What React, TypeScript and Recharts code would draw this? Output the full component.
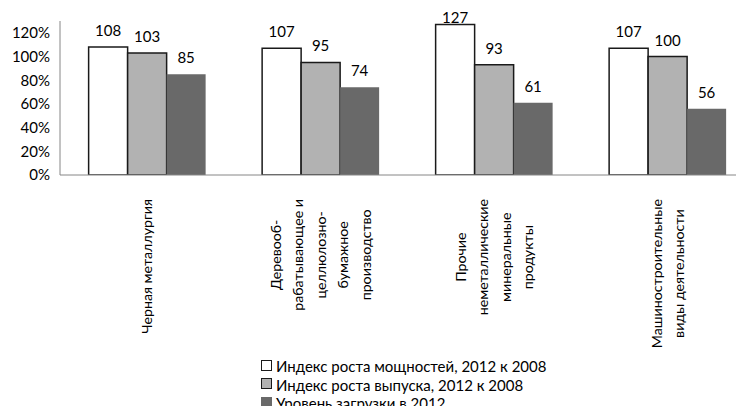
import { BarChart, Bar, XAxis, YAxis, Legend, LabelList } from "recharts";

const categories = [
  "Черная металлургия",
  "Деревооб-|рабатывающее и|целлюлозно-|бумажное|производство",
  "Прочие|неметаллические|минеральные|продукты",
  "Машиностроительные|виды деятельности",
];
const capacityIndex = [108, 107, 127, 107];
const outputIndex = [103, 95, 93, 100];
const loadLevel = [85, 74, 61, 56];
const yTicks = [0, 20, 40, 60, 80, 100, 120];
const seriesNames = [
  "Индекс роста мощностей, 2012 к 2008",
  "Индекс роста выпуска, 2012 к 2008",
  "Уровень загрузки в 2012",
];

const data = categories.map((c, i) => ({
  name: c,
  capacity: capacityIndex[i],
  output: outputIndex[i],
  load: loadLevel[i],
}));

const FONT = "Lato, 'Liberation Sans', sans-serif";
const colors = ["#ffffff", "#b2b2b2", "#696969"];
const borders = ["#1a1a1a", "#1a1a1a", "none"];
const CAT_FONT = 14.2;

let ctx: CanvasRenderingContext2D | null = null;
function textWidth(s: string) {
  if (!ctx) ctx = document.createElement("canvas").getContext("2d");
  if (!ctx) return s.length * 7.5;
  ctx.font = `${CAT_FONT}px ${FONT}`;
  return ctx.measureText(s).width;
}

function CategoryTick({ x, y, payload }: any) {
  const lines = String(payload.value).split("|");
  const longest = Math.max(...lines.map(textWidth));
  const cy = y + 16 + longest / 2;
  const step = 22.5;
  return (
    <g transform={`translate(${x},${cy}) rotate(-90)`}>
      {lines.map((l, i) => (
        <text
          key={i}
          x={0}
          y={(i - (lines.length - 1) / 2) * step}
          textAnchor="middle"
          dominantBaseline="central"
          fontSize={CAT_FONT}
          fontFamily={FONT}
          fill="#000"
        >
          {l}
        </text>
      ))}
    </g>
  );
}

function ValueLabel({ x, y, width, value }: any) {
  return (
    <text
      x={x + width / 2}
      y={Math.max(y - 17, 17)}
      textAnchor="middle"
      dominantBaseline="central"
      fontSize={15}
      fontFamily={FONT}
      fill="#000"
    >
      {value}
    </text>
  );
}

function LegendBox() {
  return (
    <div style={{ fontFamily: FONT, fontSize: 15, color: "#000", lineHeight: "18px" }}>
      {seriesNames.map((n, i) => (
        <div key={n} style={{ display: "flex", alignItems: "center", height: 18.5 }}>
          <span
            style={{
              display: "inline-block",
              width: 9,
              height: 9,
              background: colors[i],
              border: i < 2 ? "1.5px solid #1a1a1a" : "1.5px solid " + colors[i],
              marginRight: 4,
              position: "relative",
              top: -1,
            }}
          />
          {n}
        </div>
      ))}
    </div>
  );
}

export default function App() {
  return (
    <div style={{ margin: -8, width: 744, height: 414, overflow: "hidden", background: "#fff" }}>
      <BarChart
        width={762}
        height={414}
        data={data}
        margin={{ top: 21, right: 8, left: 0, bottom: 0 }}
        barCategoryGap="16.5%"
        barGap={0}
      >
        <YAxis
          width={60}
          domain={[0, 130]}
          ticks={yTicks}
          tickFormatter={(v) => `${v}%`}
          tickLine={false}
          axisLine={{ stroke: "#868686" }}
          tick={{ fontSize: 15, fontFamily: FONT, fill: "#000" }}
          tickMargin={4}
          allowDataOverflow
        />
        <XAxis
          dataKey="name"
          height={239}
          interval={0}
          axisLine={{ stroke: "#868686" }}
          tickLine={false}
          tick={<CategoryTick />}
        />
        <Legend
          layout="vertical"
          verticalAlign="middle"
          align="center"
          content={<LegendBox />}
          wrapperStyle={{ left: 261, top: 357, width: 330, height: 56 }}
        />
        <Bar dataKey="capacity" name={seriesNames[0]} fill={colors[0]} stroke={borders[0]} strokeWidth={1.5} isAnimationActive={false}>
          <LabelList dataKey="capacity" content={<ValueLabel />} />
        </Bar>
        <Bar dataKey="output" name={seriesNames[1]} fill={colors[1]} stroke={borders[1]} strokeWidth={1.5} isAnimationActive={false}>
          <LabelList dataKey="output" content={<ValueLabel />} />
        </Bar>
        <Bar dataKey="load" name={seriesNames[2]} fill={colors[2]} stroke={borders[2]} isAnimationActive={false}>
          <LabelList dataKey="load" content={<ValueLabel />} />
        </Bar>
      </BarChart>
    </div>
  );
}
